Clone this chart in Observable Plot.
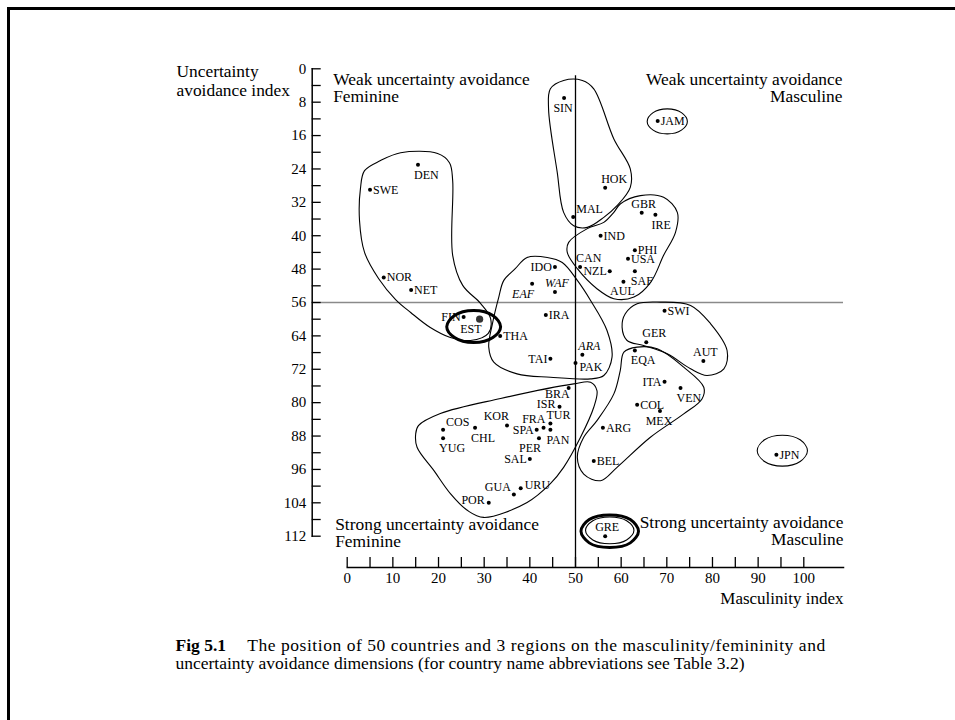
<!DOCTYPE html>
<html><head><meta charset="utf-8">
<script src="https://cdn.jsdelivr.net/npm/d3@7"></script>
<script src="https://cdn.jsdelivr.net/npm/@observablehq/plot@0.6"></script>
<style>
html,body{margin:0;padding:0;background:#fff;overflow:hidden;}
#wrap{position:relative;width:955px;height:720px;overflow:hidden;background:#fff;}
#wrap svg{position:absolute;left:0;top:0;}
#border{position:absolute;left:7px;top:7px;width:960px;height:720px;border-top:3px solid #000;border-left:3px solid #000;pointer-events:none;z-index:2;}
</style></head><body><div id="wrap"></div>
<script>
// ---- data ----
const codes = ["SIN","JAM","DEN","SWE","HOK","MAL","GBR","IRE","IND","PHI","USA","CAN","NZL","SAF","AUL","IDO","WAF","EAF","NOR","NET","FIN","EST","IRA","THA","TAI","ARA","PAK","SWI","GER","EQA","AUT","ITA","VEN","COL","MEX","ARG","BEL","JPN","BRA","ISR","TUR","FRA","SPA","PER","PAN","KOR","CHL","COS","YUG","SAL","URU","GUA","POR","GRE"];
const masculinity = [47.5,68,15.5,5,56.5,49.5,64.5,67.5,55.5,63,61.5,51,57.5,63,60.5,45.5,45.5,40.5,8,14,25.5,29,43.5,33.5,44.5,51.5,50,69.5,65.5,63,78,69.5,73,63.5,68.5,56,54,94,48.5,46.5,44.5,43,41.5,42,44.5,35,28,21,21,40,38,36.5,31,56.5];
const uncertainty = [7,12.5,23,29,28.5,35.5,34.5,35,40,43.5,45.5,47.5,48.5,48.5,51,47.5,53.5,51.5,50,53,59.5,60,59,64,69.5,68.5,70.5,58,65.5,67.5,70,75,76.5,80.5,82,86,94,92.5,76.5,81,85,86,86.5,88.5,86.5,85.5,86,86.5,88.5,93.5,100.5,102,104,112];
const regions = ["EAF","WAF","ARA"];
const highlighted = ["EST"];

const yTickLabels = [0,8,16,24,32,40,48,56,64,72,80,88,96,104,112];
const yTicks = [0,4,8,12,16,20,24,28,32,36,40,44,48,52,56,60,64,68,72,76,80,84,88,92,96,100,104,108,112];
const xTickLabels = [0,10,20,30,40,50,60,70,80,90,100];
const xTicks = [0,5,10,15,20,25,30,35,40,45,50,55,60,65,70,75,80,85,90,95,100];

// cluster outlines (masculinity, uncertainty)
const outlineNordic = [[11.7,20.1],[19.8,20.3],[22.4,22.5],[23.1,26.8],[23.1,44.7],[25.3,51.9],[29.2,56.2],[31.4,59.8],[30.9,63.4],[27.0,65.1],[22.6,64.4],[18.2,62.0],[13.9,58.4],[10.6,55.3],[6.9,50.3],[3.8,44.0],[2.7,36.4],[2.9,28.7],[3.8,24.4],[7.3,22.0]];
const outlineAsia = [[47.4,2.8],[51.5,2.8],[54.0,4.8],[58.4,16.8],[62.0,24.0],[62.0,28.4],[59.1,32.8],[56.2,35.6],[52.6,38.0],[49.6,37.6],[47.4,34.4],[46.0,24.8],[44.1,9.6],[44.5,4.8]];
const outlineAnglo = [[59.8,32.4],[64.2,30.4],[69.3,30.8],[72.3,34.4],[71.9,39.2],[69.3,44.7],[66.5,51.1],[62.8,54.7],[58.4,55.1],[54.7,52.7],[50.4,47.9],[48.2,44.0],[48.5,41.6],[52.6,38.3],[56.2,36.8],[58.4,34.4]];
const outlineMiddle = [[36.8,47.9],[39.4,45.2],[43.8,45.2],[47.1,46.4],[50.4,50.7],[53.3,55.5],[56.9,62.7],[58.0,69.1],[56.2,73.5],[53.3,74.3],[44.5,73.9],[37.2,73.1],[32.1,70.3],[31.0,66.7],[31.8,61.1],[33.2,54.7],[34.3,50.7]];
const outlineGermanic = [[63.5,56.3],[68.6,55.9],[75.2,56.7],[79.6,61.1],[83.2,67.5],[82.5,71.9],[78.8,73.5],[75.2,71.9],[70.1,68.3],[64.9,66.3],[61.3,65.1],[60.2,61.9],[60.9,58.7]];
const outlineLatinMasc = [[60.6,67.9],[63.5,66.7],[67.9,67.1],[73.7,71.5],[78.1,76.3],[77.7,79.1],[73.7,82.7],[66.4,88.3],[59.1,95.5],[55.5,98.7],[51.8,97.1],[50.4,93.1],[51.8,88.3],[54.7,84.3],[58.4,77.9],[59.8,72.3]];
const outlineLatinFem = [[15.6,85.5],[20.4,82.6],[33.6,79.0],[49.6,75.5],[53.3,75.1],[54.7,77.1],[54.0,81.1],[51.1,88.3],[47.4,95.5],[44.5,99.4],[39.4,103.9],[29.9,107.5],[26.3,105.8],[22.6,101.8],[19.0,96.3],[15.3,90.7],[15.0,87.5]];
const ringJAM = [[74.5,12.6],[73.2,14.7],[70.1,15.6],[67.0,14.7],[65.7,12.6],[67.0,10.5],[70.1,9.6],[73.2,10.5]];
const ringJPN = [[100.8,91.5],[99.2,94.1],[95.3,95.2],[91.4,94.1],[89.8,91.5],[91.4,88.9],[95.3,87.8],[99.2,88.9]];
const ringGRE = [[62.8,110.6],[61.2,112.9],[57.5,113.8],[53.8,112.9],[52.2,110.6],[53.8,108.3],[57.5,107.4],[61.2,108.3]];
const markGRE = [[63.8,110.8],[62.0,113.6],[57.5,114.7],[53.0,113.6],[51.2,110.8],[53.0,108.0],[57.5,106.9],[62.0,108.0]];
const markEST = [[33.6,61.8],[31.9,64.4],[27.7,65.6],[23.5,64.4],[21.8,61.8],[23.5,59.1],[27.7,57.9],[31.9,59.1]];

// label placement around each dot
const labelPlace = {
  r: ["JAM","SWE","IND","PHI","USA","NOR","NET","IRA","THA","SWI","COL","ARG","BEL","JPN"],
  rd: ["PAK"],
  ru: ["URU"],
  l: ["NZL","IDO","FIN","TAI","ITA","SPA","SAL"],
  lu: ["ISR","POR"],
  a: ["GBR","WAF","AUT","GRE"],
  as: ["HOK","CAN","ARA","GER","TUR"],
  ae: ["KOR","FRA"],
  ar: ["MAL","COS"],
  al: ["GUA"],
  b: ["SIN","AUL","MEX"],
  bs: ["DEN","IRE","SAF","EQA","VEN","CHL","YUG","PAN"],
  be: ["EAF","EST","PER"],
  bt: ["BRA"]
};
const placeStyle = {
  r: {textAnchor:"start", dx:3, dy:0},
  rd: {textAnchor:"start", dx:4, dy:4},
  ru: {textAnchor:"start", dx:4, dy:-3},
  l: {textAnchor:"end", dx:-3, dy:0},
  lu: {textAnchor:"end", dx:-4, dy:-2.5},
  a: {textAnchor:"middle", dx:2, dy:-9},
  as: {textAnchor:"start", dx:-4, dy:-8.5},
  ae: {textAnchor:"end", dx:2, dy:-9},
  ar: {textAnchor:"start", dx:3, dy:-8},
  al: {textAnchor:"end", dx:-3, dy:-7},
  b: {textAnchor:"middle", dx:-1, dy:10},
  bs: {textAnchor:"start", dx:-4, dy:10},
  be: {textAnchor:"end", dx:2, dy:10},
  bt: {textAnchor:"end", dx:1, dy:6.5}
};

const countries = codes.map((c, i) => ({code: c, mas: masculinity[i], uai: uncertainty[i]}));
const toRows = (g, pts) => pts.map(([x, y]) => ({g, x, y}));
const thinRows = [].concat(
  toRows("nordic", outlineNordic), toRows("asia", outlineAsia), toRows("anglo", outlineAnglo),
  toRows("middle", outlineMiddle), toRows("germanic", outlineGermanic), toRows("latinM", outlineLatinMasc),
  toRows("latinF", outlineLatinFem), toRows("jam", ringJAM), toRows("jpn", ringJPN), toRows("gre", ringGRE));
const thickRows = [].concat(toRows("greMark", markGRE), toRows("estMark", markEST));

const serif = "'Liberation Serif','Times New Roman',serif";
const labelMarks = Object.keys(labelPlace).map(k => Plot.text(countries.filter(d => labelPlace[k].includes(d.code)), {
  x: "mas", y: "uai", text: "code", fontSize: 12, ...placeStyle[k]
}));

const plot = Plot.plot({
  width: 955, height: 720,
  marginLeft: 311.7, marginTop: 68.3, marginRight: 112, marginBottom: 153,
  x: {domain: [0, 100], range: [346.7, 803.3]},
  y: {domain: [0, 112], range: [68.3, 535.7]},
  style: {fontFamily: serif, background: "white", color: "black"},
  marks: [
    Plot.ruleY([56], {stroke: "#8a8a8a", strokeWidth: 1.4}),
    Plot.ruleX([50], {insetTop: 7, strokeWidth: 1.3}),
    Plot.frame({anchor: "left", insetBottom: 31.3, strokeWidth: 1.5}),
    Plot.frame({anchor: "bottom", insetLeft: 35, strokeWidth: 1.5}),
    Plot.axisY(yTicks, {tickSize: -9, fill: "none", label: null, strokeWidth: 1.3}),
    Plot.axisY(yTickLabels, {tickSize: 0, tickPadding: 6, fontSize: 15, label: null}),
    Plot.axisX(xTicks, {tickSize: -10, fill: "none", label: null, strokeWidth: 1.3}),
    Plot.axisX(xTickLabels, {tickSize: 0, tickPadding: 5, fontSize: 15, label: null}),
    Plot.line(thinRows, {x: "x", y: "y", z: "g", curve: "catmull-rom-closed", stroke: "black", strokeWidth: 1.1}),
    Plot.line(thickRows, {x: "x", y: "y", z: "g", curve: "catmull-rom-closed", stroke: "black", strokeWidth: 3}),
    Plot.dot(countries, {x: "mas", y: "uai", r: 2, fill: "black"}),
    Plot.dot(countries.filter(d => highlighted.includes(d.code)), {x: "mas", y: "uai", r: 3.6, fill: "#333"}),
    ...labelMarks,
    Plot.text(["Weak uncertainty avoidance\nFeminine"], {frameAnchor: "top-left", textAnchor: "start", lineAnchor: "top", dx: 21, dy: 3.8, fontSize: 17.4, lineHeight: 1.0}),
    Plot.text(["Weak uncertainty avoidance\nMasculine"], {frameAnchor: "top-right", textAnchor: "end", lineAnchor: "top", dx: -1, dy: 3.8, fontSize: 17.4, lineHeight: 1.0}),
    Plot.text(["Strong uncertainty avoidance\nFeminine"], {frameAnchor: "bottom-left", textAnchor: "start", lineAnchor: "top", dx: 23, dy: -50, fontSize: 17.4, lineHeight: 1.0}),
    Plot.text(["Strong uncertainty avoidance\nMasculine"], {frameAnchor: "bottom-right", textAnchor: "end", lineAnchor: "top", dx: 0, dy: -52, fontSize: 17.4, lineHeight: 1.0}),
    Plot.text(["Uncertainty\navoidance index"], {frameAnchor: "top-left", textAnchor: "start", lineAnchor: "top", dx: -135.7, dy: -6, fontSize: 17.4, lineHeight: 1.12}),
    Plot.text(["Masculinity index"], {frameAnchor: "bottom-right", textAnchor: "end", lineAnchor: "top", dx: 0, dy: 24, fontSize: 17}),
    Plot.text(["Fig 5.1"], {frameAnchor: "bottom-left", textAnchor: "start", lineAnchor: "top", dx: -136.7, dy: 71, fontSize: 17.5, fontWeight: "bold"}),
    Plot.text(["The position of 50 countries and 3 regions on the masculinity/femininity and"], {frameAnchor: "bottom-left", textAnchor: "start", lineAnchor: "top", dx: -65, dy: 71, fontSize: 17.5}),
    Plot.text(["uncertainty avoidance dimensions (for country name abbreviations see Table 3.2)"], {frameAnchor: "bottom-left", textAnchor: "start", lineAnchor: "top", dx: -136.7, dy: 89.5, fontSize: 17.5})
  ]
});

d3.select(plot).selectAll("text").filter(function () { return regions.includes(this.textContent); }).attr("font-style", "italic");
// caption first line spans nearly to the end of the x axis in the original
d3.select(plot).selectAll("text").filter(function () { return this.textContent.startsWith("The position of 50"); })
  .attr("textLength", 578).attr("lengthAdjust", "spacing");
const wrap = document.getElementById("wrap");
wrap.appendChild(plot);
const b = document.createElement("div"); b.id = "border"; wrap.appendChild(b);
</script></body></html>
